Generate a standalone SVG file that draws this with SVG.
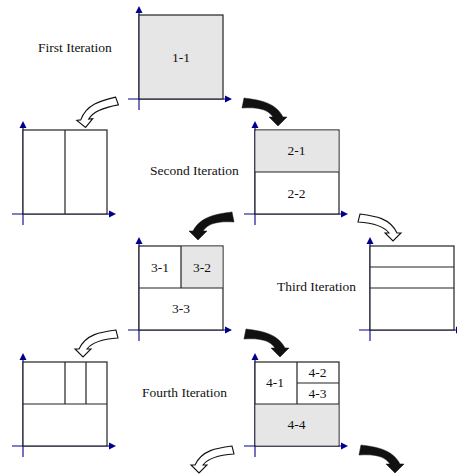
<svg xmlns="http://www.w3.org/2000/svg" xmlns:xlink="http://www.w3.org/1999/xlink" width="457" height="475" viewBox="0 0 457 475">
<style>
.bx{fill:#fff;stroke:#222;stroke-width:1.2}
.gr{fill:#e6e6e6}
.ln{stroke:#222;stroke-width:1.2;fill:none}
.ax{stroke:#00008b;stroke-width:1.1;fill:none}
.ah{fill:#00008b}
.t{font-family:"Liberation Serif","Times New Roman",serif;font-size:13.5px;fill:#111}
.c{text-anchor:middle}
.wa{fill:#fff;stroke:#111;stroke-width:1.1;stroke-linejoin:miter}
.ba{fill:#111;stroke:#111;stroke-width:0.5}
</style>
<defs>
<path id="blk" d="M1,-5 C16,-3 32,-1 40,14 L44,14 L35,23 L26,14 L30,14 C25,6 14,4 -1,5 Z"/>
<path id="wht" d="M1,-4 C16,-2 31,0 38,15 L42,15 L34,23 L26,15 L30,15 C25,8 14,5 -1,4 Z"/>
<g id="axes">
<path class="ax" d="M0,95 V-2 M-11,84 H87"/>
<polygon class="ah" points="-3.5,-2 3.5,-2 0,-9"/>
<polygon class="ah" points="86,80.5 86,87.5 93,84"/>
</g>
</defs>

<g id="label-first"><text class="t" x="38" y="52">First Iteration</text></g>
<g id="label-second"><text class="t" x="150" y="175">Second Iteration</text></g>
<g id="label-third"><text class="t" x="277" y="291">Third Iteration</text></g>
<g id="label-fourth"><text class="t" x="142" y="397">Fourth Iteration</text></g>

<g id="node-1">
<use href="#axes" transform="translate(139,15)"/>
<rect class="bx gr" x="139" y="15" width="84" height="84"/>
<text class="t c" x="181" y="61.5">1-1</text>
</g>

<g id="node-2a">
<use href="#axes" transform="translate(23,130)"/>
<rect class="bx" x="23" y="130" width="84" height="84"/>
<path class="ln" d="M65,130 V214"/>
</g>

<g id="node-2b">
<use href="#axes" transform="translate(255,130)"/>
<rect class="bx" x="255" y="130" width="84" height="84"/>
<rect class="gr" x="255.6" y="130.6" width="82.8" height="41.4"/>
<path class="ln" d="M255,172 H339"/>
<text class="t c" x="296.5" y="155">2-1</text>
<text class="t c" x="296.5" y="198">2-2</text>
</g>

<g id="node-3a">
<use href="#axes" transform="translate(139,246)"/>
<rect class="bx" x="139" y="246" width="84" height="84"/>
<rect class="gr" x="181" y="246.6" width="41.4" height="41.4"/>
<path class="ln" d="M139,288 H223 M181,246 V288"/>
<text class="t c" x="160" y="272">3-1</text>
<text class="t c" x="202" y="272">3-2</text>
<text class="t c" x="181" y="313">3-3</text>
</g>

<g id="node-3b">
<use href="#axes" transform="translate(370,246)"/>
<rect class="bx" x="370" y="246" width="84" height="84"/>
<path class="ln" d="M370,267 H454 M370,288 H454"/>
</g>

<g id="node-4a">
<use href="#axes" transform="translate(23,362)"/>
<rect class="bx" x="23" y="362" width="84" height="84"/>
<path class="ln" d="M23,404 H107 M65,362 V404 M86,362 V404"/>
</g>

<g id="node-4b">
<use href="#axes" transform="translate(255,362)"/>
<rect class="bx" x="255" y="362" width="84" height="84"/>
<rect class="gr" x="255.6" y="404" width="82.8" height="41.4"/>
<path class="ln" d="M255,404 H339 M297,362 V404 M297,383 H339"/>
<text class="t c" x="275" y="387">4-1</text>
<text class="t c" x="317.5" y="377">4-2</text>
<text class="t c" x="317.5" y="398">4-3</text>
<text class="t c" x="296.5" y="429">4-4</text>
</g>

<g id="connectors">
<use href="#wht" class="wa" transform="translate(117,101) scale(-1,1) rotate(6)"/>
<use href="#blk" class="ba" transform="translate(243,103)"/>
<use href="#blk" class="ba" transform="translate(233,217) scale(-1,1)"/>
<use href="#wht" class="wa" transform="translate(359,218)"/>
<use href="#wht" class="wa" transform="translate(117,334) scale(-1,1)"/>
<use href="#blk" class="ba" transform="translate(245,334)"/>
<use href="#wht" class="wa" transform="translate(233,450) scale(-1,1)"/>
<use href="#blk" class="ba" transform="translate(360,450)"/>
</g>
</svg>
